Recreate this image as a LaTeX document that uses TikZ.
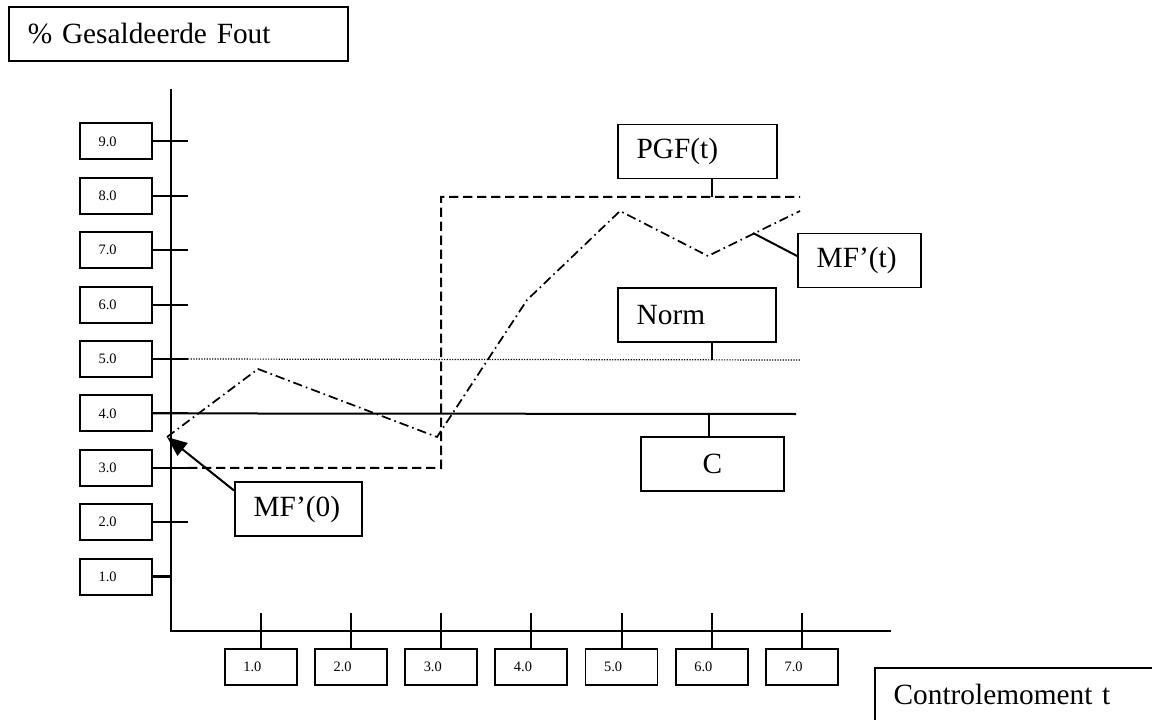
\documentclass[tikz,border=0pt]{standalone}
\usepackage{fontspec}
\setmainfont{Liberation Serif}
\usetikzlibrary{arrows.meta, positioning}

\tikzset{
	axis/.style={line width=1.5pt},
	lbl/.style={draw, line width=1.4pt, rectangle, inner xsep=14pt, inner ysep=0pt, minimum height=40.5pt, text width=#1, align=left, font=\fontsize{22}{26}\selectfont},
	tickbox/.style={draw, line width=1.4pt, rectangle, inner xsep=14pt, inner ysep=0pt, minimum height=27pt, text width=26pt, align=left, font=\fontsize{10.8}{12}\selectfont},
	pgfline/.style={line width=1.5pt, dash pattern=on 7pt off 3.5pt},
	mfline/.style={line width=1.3pt, dash pattern=on 7pt off 3pt on 1.2pt off 3pt},
	normline/.style={line width=0.9pt, dash pattern=on 0.9pt off 1.1pt},
	cline/.style={line width=1.5pt}
}

\begin{document}
\begin{tikzpicture}[x=0.75pt, y=-0.75pt]
		\clip (0,0) rectangle (1152,720);
		\pgfmathsetmacro{\ox}{170.5}
		\pgfmathsetmacro{\oy}{631}
		\pgfmathsetmacro{\ux}{90.2}
		\pgfmathsetmacro{\uy}{54.4}
		
		\node[lbl=226pt] (title) at (178.5,34) {\% Gesaldeerde Fout};
		
		\coordinate (O) at (\ox,\oy);
		\coordinate (ytop) at (\ox,89);
		\coordinate (xend) at (891,\oy);
		\draw[axis] (ytop) -- (O) -- (xend);
		
		\foreach \v in {1,...,9} {
			\node[tickbox] (y\v) at (116,{\oy-\uy*\v}) {\v.0};
		}
		\foreach \v in {2,...,9} {
			\coordinate (yt\v) at (188,{\oy-\uy*\v});
			\draw[axis] (y\v.east) -- (yt\v);
		}
		\draw[line width=2.2pt] (y1.east) -- (y1.east -| O);
		
		\foreach \v in {1,...,7} {
			\node[tickbox] (x\v) at ({\ox+\ux*\v},667) {\v.0};
			\coordinate (xt\v) at ({\ox+\ux*\v},613);
			\draw[axis] (xt\v) -- (x\v.north);
		}
		
		\draw[cline] (y4.east) -- (796,414);
		\draw[normline] (yt5) -- (800,360);
		\draw[pgfline] (yt3) -- (441,468) -- (441,197) -- (800,197);
		\draw[mfline] (167,437) -- (258,369) -- (437,437) -- (527,300) -- (620,211) -- (708,256) -- (800,211);
		
		\node[lbl=91.25pt] (pgf) at (697.5,151.5) {PGF(t)};
		\node[lbl=90.5pt] (norm) at (697,315) {Norm};
		\node[lbl=64.25pt] (mft) at (859.5,260.5) {MF’(t)};
		\node[lbl=79.25pt, align=center] (c) at (712.5,464) {C};
		\node[lbl=67.25pt] (mf0) at (298.5,509) {MF’(0)};
		\node[lbl=212pt, anchor=north west] (ctrl) at (874,667) {Controlemoment t};
		
		\coordinate (pgfhit) at (712,197);
		\coordinate (normhit) at (712,360);
		\coordinate (chit) at (709,414);
		\coordinate (mfhit) at (753,233);
		\coordinate (mfstart) at (167,437);
		\draw[axis] (pgfhit |- pgf.south) -- (pgfhit);
		\draw[axis] (normhit |- norm.south) -- (normhit);
		\draw[axis] (chit) -- (chit |- c.north);
		\draw[axis] ([yshift=3.4pt]mft.west) -- (mfhit);
		\draw[axis, -{Triangle[length=15pt, width=12pt]}] (mf0.164) -- (mfstart);
		
		\end{tikzpicture}
\end{document}
